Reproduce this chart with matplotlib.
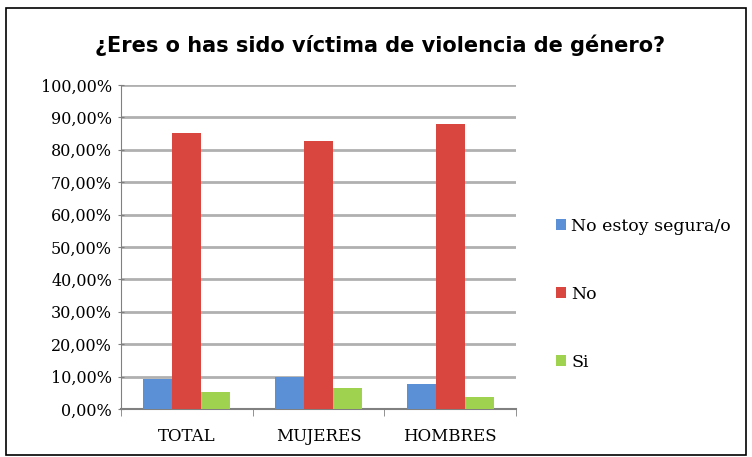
import matplotlib.pyplot as plt
import numpy as np
from matplotlib.patches import Rectangle

categorias = ["TOTAL", "MUJERES", "HOMBRES"]
series = ["No estoy segura/o", "No", "Si"]
no_seguro = [9.2, 10.0, 7.6]
no = [85.1, 82.6, 87.9]
si = [5.4, 6.6, 3.8]
colores = ["#5b8fd6", "#d9453f", "#9fd24e"]

fig = plt.figure(figsize=(7.52, 4.57), dpi=100)
fig.patches.append(Rectangle((0.008, 0.004), 0.984, 0.978, transform=fig.transFigure,
                             fill=False, edgecolor="black", linewidth=1.2))

ax = fig.add_axes([121 / 752, 1 - 409 / 457, 395 / 752, 324 / 457])
x = np.arange(len(categorias))
w = 0.22
for i, (vals, c, lab) in enumerate(zip([no_seguro, no, si], colores, series)):
    ax.bar(x + (i - 1) * w, vals, width=w, color=c, label=lab, zorder=3)

ax.set_xlim(-0.5, 2.5)
ax.set_ylim(0, 100)
ax.set_yticks(np.arange(0, 101, 10))
ax.set_yticklabels([f"{v},00%" for v in range(0, 101, 10)], fontfamily="DejaVu Serif", fontsize=11.5)
ax.set_xticks(x)
ax.set_xticklabels(categorias, fontfamily="DejaVu Serif", fontsize=12)
ax.set_xticks([-0.5, 0.5, 1.5, 2.5], minor=True)
ax.tick_params(axis="x", which="major", length=0, pad=14)
ax.tick_params(axis="x", which="minor", length=5, color="#808080", direction="out")
ax.tick_params(axis="y", length=5, color="#808080", direction="inout", pad=4)
ax.grid(axis="y", color="#b0b0b0", linewidth=2, zorder=0)
for s in ["top", "right"]:
    ax.spines[s].set_visible(False)
ax.spines["left"].set_color("#808080")
ax.spines["bottom"].set_color("#808080")
ax.spines["bottom"].set_linewidth(1.5)

fig.text(0.505, 1 - 45 / 457, "¿Eres o has sido víctima de violencia de género?",
         ha="center", va="center", fontsize=15, fontweight="bold", fontfamily="DejaVu Sans")

leg = fig.legend(loc="upper left", bbox_to_anchor=(540 / 752, 1 - 202 / 457), frameon=False,
                 prop={"family": "DejaVu Serif", "size": 12.5}, handlelength=0.6,
                 handleheight=0.6, handletextpad=0.3, labelspacing=2.95)

fig.savefig("out.png", dpi=100)
